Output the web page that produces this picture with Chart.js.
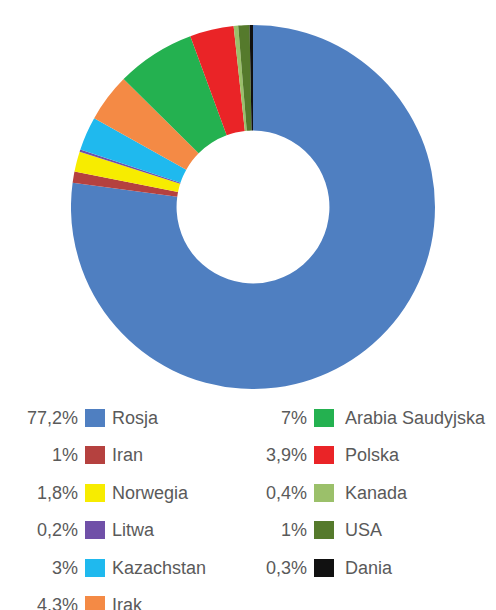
<!DOCTYPE html>
<html>
<head>
<meta charset="utf-8">
<script src="https://cdn.jsdelivr.net/npm/chart.js@4"></script>
<style>
  body { margin: 0; width: 496px; height: 610px; background: #fff; position: relative; overflow: hidden;
         font-family: "Liberation Sans", Arial, sans-serif; }
  #wrap { position: absolute; left: 71px; top: 25px; width: 364px; height: 364px; }
  .row { position: absolute; height: 20px; line-height: 20px; font-size: 18px; color: #5a5a5a; white-space: nowrap; }
  .pct { position: absolute; text-align: right; width: 80px; }
  .sw { position: absolute; width: 20px; height: 18px; top: 1px; }
  .lbl { position: absolute; }
</style>
</head>
<body>
<div id="wrap"><canvas id="donut" width="364" height="364"></canvas></div>
<div id="legend"></div>
<script>
// --- Data ---
const countries = ['Rosja', 'Iran', 'Norwegia', 'Litwa', 'Kazachstan', 'Irak',
                   'Arabia Saudyjska', 'Polska', 'Kanada', 'USA', 'Dania'];
const shares = [77.2, 1, 1.8, 0.2, 3, 4.3, 7, 3.9, 0.4, 1, 0.3];
const shareLabels = ['77,2%', '1%', '1,8%', '0,2%', '3%', '4,3%', '7%', '3,9%', '0,4%', '1%', '0,3%'];
const colors = ['#4f7fc1', '#b5413f', '#f7ec00', '#7050a8', '#1fb9ee', '#f48a45',
                '#24b150', '#ea2427', '#9bc06a', '#557a2c', '#111111'];

// --- Donut ---
new Chart(document.getElementById('donut'), {
    type: 'doughnut',
    data: {
        labels: countries,
        datasets: [{ data: shares, backgroundColor: colors, borderWidth: 0 }]
    },
    options: {
        responsive: false,
        animation: false,
        cutout: '42%',
        plugins: { legend: { display: false }, tooltip: { enabled: false } }
    }
});

// --- Legend (two columns, 6 + 5 rows) ---
const legend = document.getElementById('legend');
countries.forEach((name, i) => {
    const col = i < 6 ? 0 : 1;
    const r = i < 6 ? i : i - 6;
    const x = col === 0 ? 0 : 229;
    const y = 408 + r * 37.4;
    const row = document.createElement('div');
    row.className = 'row';
    row.style.left = x + 'px';
    row.style.top = y + 'px';
    row.innerHTML =
        '<span class="pct" style="left:-2px">' + shareLabels[i] + '</span>' +
        '<span class="sw" style="left:85px;background:' + colors[i] + '"></span>' +
        '<span class="lbl" style="left:' + (col === 0 ? 112 : 116) + 'px">' + name + '</span>';
    legend.appendChild(row);
});
</script>
</body>
</html>
